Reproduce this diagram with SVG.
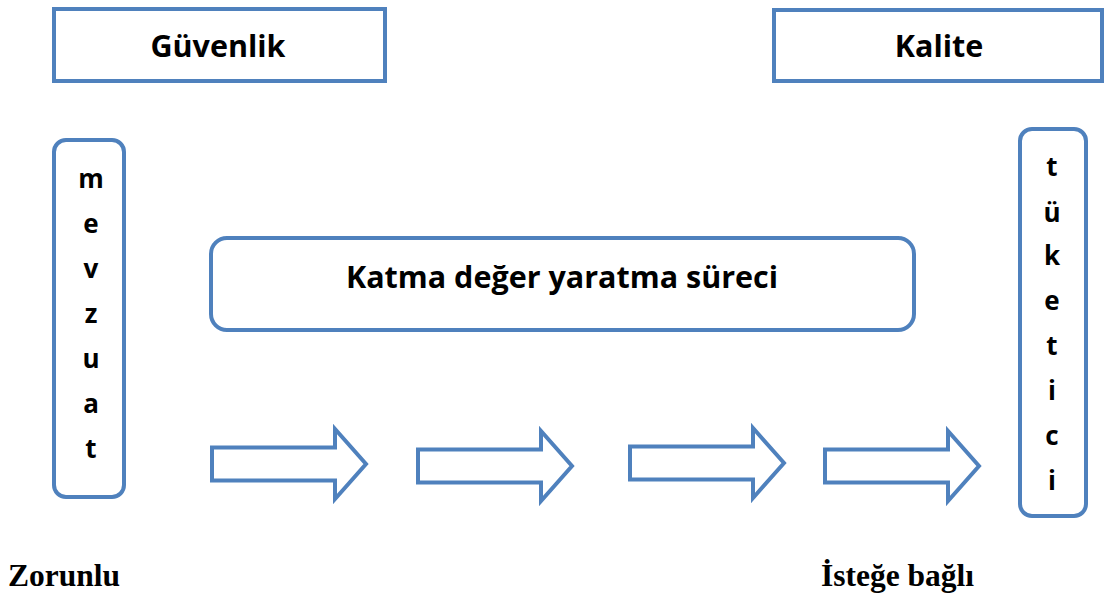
<svg xmlns="http://www.w3.org/2000/svg" width="1105" height="595" viewBox="0 0 1105 595">
  <style>
    .box { fill: #ffffff; stroke: #4F81BD; stroke-width: 4; }
    .title { font-family: "Open Sans", "Liberation Sans", sans-serif; font-weight: bold; fill: #000000; text-anchor: middle; }
    .big { font-size: 30.5px; }
    .letter { font-size: 26px; }
    .foot { font-family: "Liberation Serif", serif; font-weight: bold; font-size: 31.5px; fill: #000000; }
  </style>
  <defs>
    <path id="blockArrow" d="M0,-16.5 H123 V-35 L154,0 L123,35 V16.5 H0 Z" class="box" stroke-linejoin="miter"/>
  </defs>
  <rect width="1105" height="595" fill="#ffffff"/>

  <!-- top headers -->
  <g id="guvenlik">
    <rect class="box" x="54" y="9" width="331" height="72"/>
    <text class="title big" x="218" y="57">Güvenlik</text>
  </g>
  <g id="kalite">
    <rect class="box" x="774" y="10" width="328" height="71"/>
    <text class="title big" x="939" y="57">Kalite</text>
  </g>

  <!-- vertical side boxes -->
  <g id="mevzuat">
    <rect class="box" x="54" y="140" width="70" height="357" rx="12" ry="12"/>
    <text class="title letter" x="91" y="188">m</text>
    <text class="title letter" x="91" y="233">e</text>
    <text class="title letter" x="91" y="278">v</text>
    <text class="title letter" x="91" y="323">z</text>
    <text class="title letter" x="91" y="368">u</text>
    <text class="title letter" x="91" y="413">a</text>
    <text class="title letter" x="91" y="458">t</text>
  </g>
  <g id="tuketici">
    <rect class="box" x="1020" y="129" width="66" height="387" rx="12" ry="12"/>
    <text class="title letter" x="1052" y="176">t</text>
    <text class="title letter" x="1052" y="222">ü</text>
    <text class="title letter" x="1052" y="265">k</text>
    <text class="title letter" x="1052" y="310">e</text>
    <text class="title letter" x="1052" y="355">t</text>
    <text class="title letter" x="1052" y="400">i</text>
    <text class="title letter" x="1052" y="445">c</text>
    <text class="title letter" x="1052" y="490">i</text>
  </g>

  <!-- central process box -->
  <g id="katma">
    <rect class="box" x="211" y="238" width="703" height="92" rx="16" ry="16"/>
    <text class="title big" x="562" y="288">Katma değer yaratma süreci</text>
  </g>

  <!-- flow arrows -->
  <g id="connectors">
    <use href="#blockArrow" transform="translate(212,464)"/>
    <use href="#blockArrow" transform="translate(418,466)"/>
    <use href="#blockArrow" transform="translate(630,463)"/>
    <use href="#blockArrow" transform="translate(825,466)"/>
  </g>

  <!-- scale labels -->
  <g id="zorunlu">
    <text class="foot" x="8" y="586">Zorunlu</text>
  </g>
  <g id="istege">
    <text class="foot" x="821" y="586">İsteğe bağlı</text>
  </g>
</svg>
